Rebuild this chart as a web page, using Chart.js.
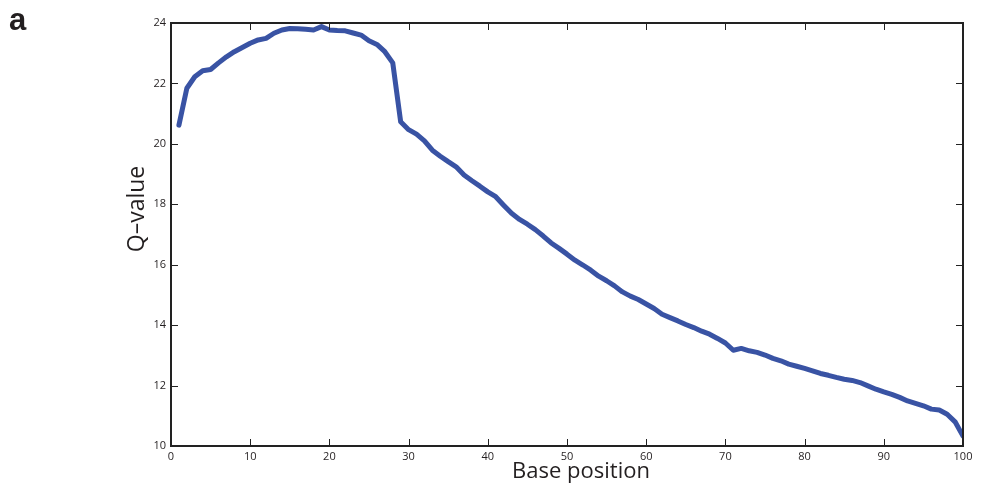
<!DOCTYPE html>
<html>
<head>
<meta charset="utf-8">
<script src="https://cdn.jsdelivr.net/npm/chart.js@4"></script>
<style>
    html, body { margin: 0; padding: 0; background: #fff; }
    #wrap { width: 991px; height: 485px; }
</style>
</head>
<body>
<div id="wrap"><canvas id="myChart" width="991" height="485"></canvas></div>
<script>
// base positions 1..100
var positions = [];
for (var i = 1; i <= 100; i++) positions.push(i);

var qValues = [
    20.62, 21.84, 22.22, 22.42, 22.46, 22.68, 22.88, 23.05, 23.19, 23.33,
    23.44, 23.49, 23.66, 23.77, 23.82, 23.81, 23.79, 23.77, 23.88, 23.77,
    23.75, 23.74, 23.67, 23.60, 23.41, 23.29, 23.05, 22.68, 20.73, 20.47,
    20.32, 20.10, 19.79, 19.59, 19.41, 19.24, 18.97, 18.78, 18.60, 18.41,
    18.25, 17.97, 17.70, 17.50, 17.34, 17.16, 16.95, 16.72, 16.54, 16.35,
    16.15, 15.99, 15.82, 15.62, 15.47, 15.30, 15.10, 14.96, 14.85, 14.70,
    14.55, 14.36, 14.25, 14.14, 14.02, 13.92, 13.80, 13.70, 13.56, 13.41,
    13.17, 13.23, 13.15, 13.10, 13.01, 12.90, 12.82, 12.71, 12.64, 12.57,
    12.49, 12.40, 12.34, 12.27, 12.21, 12.17, 12.10, 11.99, 11.88, 11.79,
    11.71, 11.61, 11.49, 11.41, 11.33, 11.22, 11.19, 11.05, 10.80, 10.33
];

var xTicks = [0, 10, 20, 30, 40, 50, 60, 70, 80, 90, 100];
var yTicks = [10, 12, 14, 16, 18, 20, 22, 24];

var labelFont = '"Open Sans", "Liberation Sans", sans-serif';

// box + inward ticks + axis titles + panel letter
var frame = {
    id: 'frame',
    afterDraw: function (chart) {
        var ctx = chart.ctx;
        var a = chart.chartArea;
        var xs = chart.scales.x, ys = chart.scales.y;
        ctx.save();
        ctx.strokeStyle = '#222';
        ctx.lineWidth = 1;
        xTicks.forEach(function (v) {
            var px = Math.round(xs.getPixelForValue(v)) + 0.5;
            ctx.beginPath();
            ctx.moveTo(px, a.bottom); ctx.lineTo(px, a.bottom - 7);
            ctx.moveTo(px, a.top); ctx.lineTo(px, a.top + 7);
            ctx.stroke();
        });
        yTicks.forEach(function (v) {
            var py = Math.round(ys.getPixelForValue(v)) + 0.5;
            ctx.beginPath();
            ctx.moveTo(a.left, py); ctx.lineTo(a.left + 7, py);
            ctx.moveTo(a.right, py); ctx.lineTo(a.right - 7, py);
            ctx.stroke();
        });
        ctx.lineWidth = 2;
        ctx.strokeRect(a.left, a.top, a.right - a.left, a.bottom - a.top);

        ctx.fillStyle = '#231f20';
        ctx.font = '22px ' + labelFont;
        ctx.textAlign = 'center';
        ctx.textBaseline = 'alphabetic';
        ctx.fillText('Base position', 581, 478);
        ctx.save();
        ctx.translate(144, 209);
        ctx.rotate(-Math.PI / 2);
        ctx.font = '23px ' + labelFont;
        ctx.fillText('Q\u2013value', 0, 0);
        ctx.restore();

        ctx.font = 'bold 31px "Liberation Sans", Arial, sans-serif';
        ctx.textAlign = 'left';
        ctx.fillText('a', 9, 30);
        ctx.restore();
    }
};

var ctx = document.getElementById('myChart').getContext('2d');
new Chart(ctx, {
    type: 'line',
    data: {
        labels: positions,
        datasets: [{
            label: 'Q-value',
            data: positions.map(function (p, i) { return { x: p, y: qValues[i] }; }),
            borderColor: '#3953a4',
            borderWidth: 5,
            pointRadius: 0,
            tension: 0,
            borderJoinStyle: 'round',
            borderCapStyle: 'round',
            fill: false
        }]
    },
    options: {
        responsive: false,
        animation: false,
        events: [],
        layout: {
            padding: { left: 0, right: 28, top: 23, bottom: 0 }
        },
        plugins: {
            legend: { display: false },
            tooltip: { enabled: false }
        },
        scales: {
            x: {
                type: 'linear',
                min: 0,
                max: 100,
                afterFit: function (scale) { scale.height = 39; },
                afterBuildTicks: function (scale) {
                    scale.ticks = xTicks.map(function (v) { return { value: v }; });
                },
                grid: { display: false, drawTicks: false },
                border: { display: false },
                ticks: {
                    padding: 4,
                    color: '#231f20',
                    font: { family: labelFont, size: 11 },
                    maxRotation: 0
                }
            },
            y: {
                min: 10,
                max: 24,
                afterFit: function (scale) { scale.width = 171; },
                afterBuildTicks: function (scale) {
                    scale.ticks = yTicks.map(function (v) { return { value: v }; });
                },
                grid: { display: false, drawTicks: false },
                border: { display: false },
                ticks: {
                    padding: 5,
                    color: '#231f20',
                    font: { family: labelFont, size: 11 }
                }
            }
        }
    },
    plugins: [frame]
});
</script>
</body>
</html>
